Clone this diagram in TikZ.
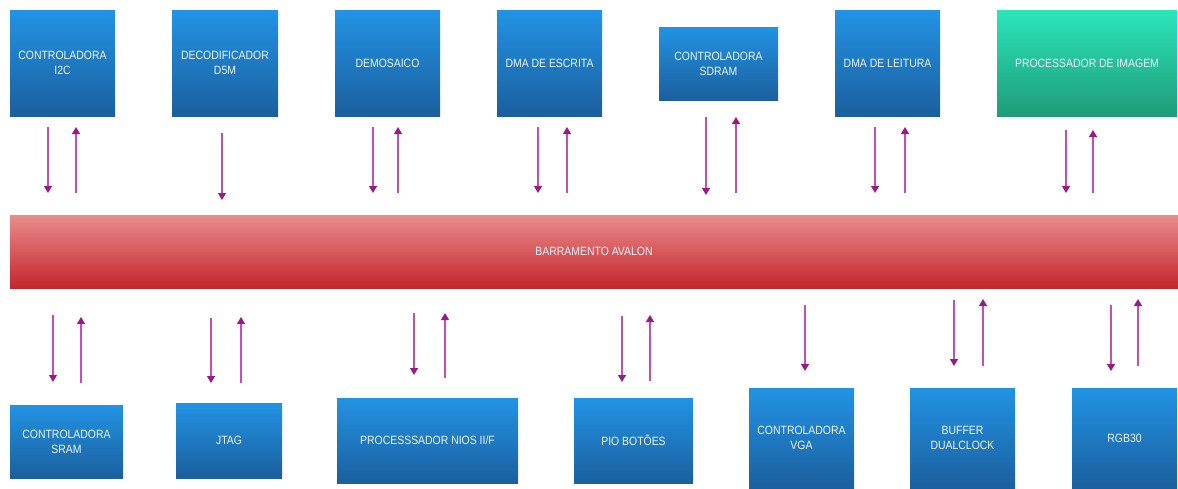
\documentclass[tikz,border=0pt]{standalone}
\usepackage{fontspec}
\setmainfont{Liberation Sans}[FakeStretch=0.87]
\usetikzlibrary{arrows.meta}
\definecolor{boxtop}{HTML}{2293E4}
\definecolor{boxbot}{HTML}{1B5F9E}
\definecolor{imgtop}{HTML}{2BE6BA}
\definecolor{imgbot}{HTML}{1E9C79}
\definecolor{bustop}{HTML}{EA8C8C}
\definecolor{busbot}{HTML}{C4262C}
\definecolor{arrline}{HTML}{C44DB6}
\definecolor{arrtip}{HTML}{9A1A86}
\definecolor{lbl}{HTML}{EEF4FA}
\tikzset{
  block/.style={inner sep=0pt, outer sep=0pt, top color=boxtop, bottom color=boxbot,
    text=lbl, align=center, font=\fontsize{12}{15}\selectfont},
  imgblock/.style={block, top color=imgtop, bottom color=imgbot},
  busbar/.style={block, top color=bustop, bottom color=busbot},
  link/.style={draw=arrline, line width=1.4pt,
    -{Triangle[width=8pt,length=7pt,color=arrtip]}},
}
\begin{document}
\begin{tikzpicture}[x=1pt,y=-1pt]
\useasboundingbox (0,0) rectangle (1178,488);

% upper row of modules
\node[block, minimum width=105pt, minimum height=106pt] (i2c) at (62.5,63) {CONTROLADORA\\I2C};
\node[block, minimum width=106pt, minimum height=106pt] (d5m) at (225,63) {DECODIFICADOR\\D5M};
\node[block, minimum width=105pt, minimum height=106pt] (demo) at (387.5,63) {DEMOSAICO};
\node[block, minimum width=105pt, minimum height=106pt] (dmaw) at (549.5,63) {DMA DE ESCRITA};
\node[block, minimum width=119pt, minimum height=73pt] (sdram) at (718.5,63.5) {CONTROLADORA\\SDRAM};
\node[block, minimum width=105pt, minimum height=106pt] (dmar) at (887.5,63) {DMA DE LEITURA};
\node[imgblock, minimum width=180pt, minimum height=106pt] (img) at (1087,63) {PROCESSADOR DE IMAGEM};

% system bus
\node[busbar, minimum width=1168pt, minimum height=73pt] (bus) at (594,251.5) {BARRAMENTO AVALON};

% lower row of modules
\node[block, minimum width=113pt, minimum height=73pt] (sram) at (66.5,441.5) {CONTROLADORA\\SRAM};
\node[block, minimum width=106pt, minimum height=75pt] (jtag) at (229,440.5) {JTAG};
\node[block, minimum width=181pt, minimum height=85pt] (nios) at (427.5,440.5) {PROCESSSADOR NIOS II/F};
\node[block, minimum width=119pt, minimum height=85pt] (pio) at (633.5,440.5) {PIO BOTÕES};
\node[block, minimum width=105pt, minimum height=100pt] (vga) at (801.5,438) {CONTROLADORA\\VGA};
\node[block, minimum width=105pt, minimum height=100pt] (buf) at (962.5,438) {BUFFER\\DUALCLOCK};
\node[block, minimum width=105pt, minimum height=100pt] (rgb) at (1124.5,438) {RGB30};

% data paths: name / x / start y / end y
\foreach \n/\x/\ya/\yb in {
    i2cdn/48/127/193, i2cup/76/193/127,
    d5mdn/222/133/200,
    demodn/373/127/193, demoup/398/193/127,
    dmawdn/538/127/193, dmawup/567/193/127,
    sdramdn/706/117/195, sdramup/736/193/117,
    dmardn/875/127/193, dmarup/905/193/127,
    imgdn/1066/130/193, imgup/1093/193/130,
    sramdn/53/315/382, sramup/81/383/317,
    jtagdn/211/318/383, jtagup/241/383/317,
    niosdn/414/313/375, niosup/445/378/313,
    piodn/622/316/382, pioup/650/381/315,
    vgadn/805/305/371,
    bufdn/954/300/366, bufup/983/366/299,
    rgbdn/1111/305/371, rgbup/1138/366/299} {
  \coordinate (\n-s) at (\x,\ya);
  \coordinate (\n-e) at (\x,\yb);
  \draw[link] (\n-s) -- (\n-e);
}
\end{tikzpicture}
\end{document}
